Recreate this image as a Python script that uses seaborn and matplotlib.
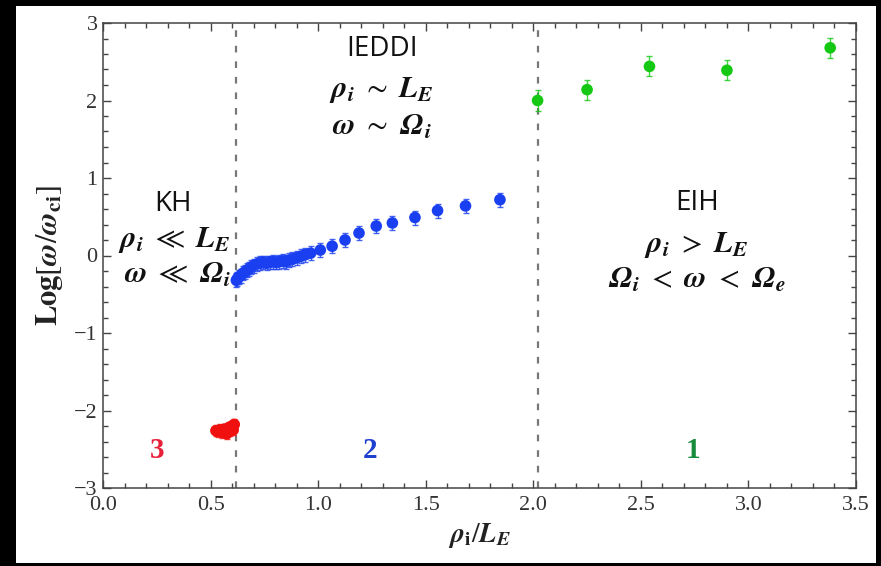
import numpy as np
import pandas as pd
import matplotlib
matplotlib.use("Agg")
import matplotlib.pyplot as plt
from matplotlib.patches import Rectangle
from matplotlib.ticker import MultipleLocator
import seaborn as sns

# Regime 3 (KH) points
x_kh = [0.525, 0.535, 0.545, 0.555, 0.565, 0.575, 0.585, 0.59, 0.60, 0.605, 0.61]
y_kh = [-2.26, -2.27, -2.25, -2.28, -2.24, -2.30, -2.22, -2.26, -2.20, -2.25, -2.18]
err_kh = 0.07

# Regime 2 (IEDDI) points
x_ieddi = [0.62, 0.625, 0.63, 0.64, 0.65, 0.66, 0.67, 0.68, 0.69, 0.70, 0.715, 0.73,
           0.745, 0.76, 0.775, 0.79, 0.805, 0.82, 0.835, 0.85, 0.865, 0.88, 0.90, 0.92,
           0.94, 0.965, 1.01, 1.065, 1.125, 1.19, 1.27, 1.345, 1.45, 1.555, 1.685, 1.845]
y_ieddi = [-0.32, -0.30, -0.28, -0.26, -0.23, -0.21, -0.19, -0.17, -0.15, -0.13, -0.11, -0.10,
           -0.09, -0.10, -0.09, -0.08, -0.09, -0.08, -0.07, -0.08, -0.06, -0.05, -0.03, -0.01,
           0.01, 0.03, 0.07, 0.12, 0.20, 0.29, 0.38, 0.42, 0.49, 0.58, 0.64, 0.72]
err_ieddi = 0.09

# Regime 1 (EIH) points
x_eih = [2.02, 2.25, 2.54, 2.90, 3.38]
y_eih = [2.00, 2.14, 2.44, 2.39, 2.68]
err_eih = 0.13

# Regime boundaries
boundaries = [0.62, 2.02]

regime_names = ["3", "2", "1"]
point_colors = {"3": "#f01010", "2": "#1a3ff0", "1": "#14c814"}
label_colors = {"3": "#e8203a", "2": "#2040d0", "1": "#168c3c"}

df = pd.concat([
    pd.DataFrame({"x": x_kh, "y": y_kh, "regime": "3", "err": err_kh}),
    pd.DataFrame({"x": x_ieddi, "y": y_ieddi, "regime": "2", "err": err_ieddi}),
    pd.DataFrame({"x": x_eih, "y": y_eih, "regime": "1", "err": err_eih}),
], ignore_index=True)

sns.set_style("ticks")
plt.rcParams["mathtext.fontset"] = "stix"
plt.rcParams["font.family"] = ["Liberation Serif", "DejaVu Serif"]

fig = plt.figure(figsize=(8.81, 5.66), dpi=100, facecolor="black")
fig.patches.append(Rectangle((16 / 881, 3 / 566), 860 / 881, 557 / 566,
                             transform=fig.transFigure, facecolor="white",
                             edgecolor="none", zorder=-10))
ax = fig.add_axes([103 / 881, 78 / 566, 753 / 881, 465 / 566])
ax.set_zorder(1)
ax.set_facecolor("white")

for reg in regime_names:
    sub = df[df["regime"] == reg]
    ax.errorbar(sub["x"], sub["y"], yerr=sub["err"], fmt="none",
                ecolor=point_colors[reg], elinewidth=1.0, capsize=2.5,
                capthick=1.0, alpha=0.8, zorder=2)

sns.scatterplot(data=df, x="x", y="y", hue="regime", palette=point_colors,
                hue_order=regime_names, s=70, edgecolor="none", legend=False,
                ax=ax, zorder=3)

for b in boundaries:
    ax.axvline(b, color="#777777", linestyle=(0, (3, 4)), linewidth=1.6, zorder=1)

ax.set_xlim(0, 3.5)
ax.set_ylim(-3, 3)
ax.xaxis.set_major_locator(MultipleLocator(0.5))
ax.xaxis.set_minor_locator(MultipleLocator(0.1))
ax.yaxis.set_major_locator(MultipleLocator(1))
ax.yaxis.set_minor_locator(MultipleLocator(0.2))
ax.set_xticks([0, 0.5, 1.0, 1.5, 2.0, 2.5, 3.0, 3.5])
ax.set_xticklabels(["0.0", "0.5", "1.0", "1.5", "2.0", "2.5", "3.0", "3.5"])
ax.set_yticks([-3, -2, -1, 0, 1, 2, 3])
ax.set_yticklabels(["\u22123", "\u22122", "\u22121", "0", "1", "2", "3"])
ax.tick_params(which="both", direction="in", top=True, right=True,
               color="#444444", width=1.0, labelcolor="#333333", labelsize=16)
ax.tick_params(which="major", length=6)
ax.tick_params(which="minor", length=3.5)
ax.tick_params(axis="x", pad=6)
ax.tick_params(axis="y", pad=4)
for sp in ax.spines.values():
    sp.set_visible(True)
    sp.set_color("#444444")
    sp.set_linewidth(1.1)

ax.set_xlabel(r"$\mathbfit{\rho}_{\mathbf{i}}/\mathbfit{L}_{\mathbfit{E}}$",
              fontsize=20, color="#222222", labelpad=4)
ax.set_ylabel(r"$\mathbf{Log}[\mathbfit{\omega}/\mathbfit{\omega}_{\mathbf{ci}}]$",
              fontsize=22, color="#222222", labelpad=6)

# Regime numbers along the bottom
for reg, xpos in zip(regime_names, [0.25, 1.24, 2.74]):
    ax.text(xpos, -2.52, reg, color=label_colors[reg], fontsize=21,
            fontweight="bold", ha="center", va="center")

# Regime descriptions
sans = ["Open Sans", "DejaVu Sans"]
math_kw = dict(fontsize=22, ha="center", va="center", color="#111111")
name_kw = dict(fontsize=20, family=sans, ha="center", va="center", color="#111111")

ax.text(0.325, 0.66, "KH", **name_kw)
ax.text(0.33, 0.20,
        r"$\mathbfit{\rho}_{\mathbfit{i}}\ \ll\ \mathbfit{L}_{\mathbfit{E}}$", **math_kw)
ax.text(0.345, -0.26,
        r"$\mathbfit{\omega}\ \ll\ \mathbfit{\Omega}_{\mathbfit{i}}$", **math_kw)

ax.text(1.295, 2.66, "IEDDI", **name_kw)
ax.text(1.295, 2.14,
        r"$\mathbfit{\rho}_{\mathbfit{i}}\ \sim\ \mathbfit{L}_{\mathbfit{E}}$", **math_kw)
ax.text(1.295, 1.65,
        r"$\mathbfit{\omega}\ \sim\ \mathbfit{\Omega}_{\mathbfit{i}}$", **math_kw)

ax.text(2.76, 0.68, "EIH", **name_kw)
ax.text(2.76, 0.14,
        r"$\mathbfit{\rho}_{\mathbfit{i}}\ >\ \mathbfit{L}_{\mathbfit{E}}$", **math_kw)
ax.text(2.76, -0.32,
        r"$\mathbfit{\Omega}_{\mathbfit{i}}\ <\ \mathbfit{\omega}\ <\ \mathbfit{\Omega}_{\mathbfit{e}}$",
        **math_kw)

fig.savefig("out.png", dpi=100, facecolor="black")
